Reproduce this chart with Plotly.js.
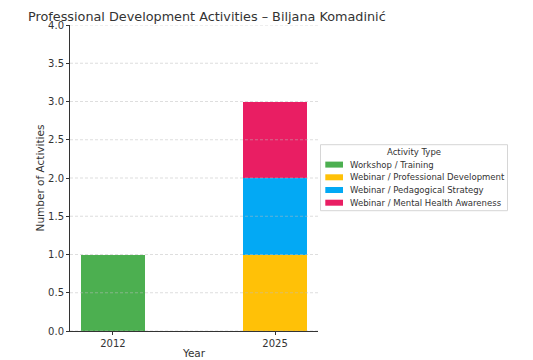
<!DOCTYPE html>
<html><head><meta charset="utf-8">
<script src="https://cdn.plot.ly/plotly-3.0.1.min.js"></script>
<style>html,body{margin:0;padding:0;background:#fff}#c{width:533px;height:360px}</style>
</head><body><div id="c"></div>
<script>
const years = ['2012', '2025'];
const seriesNames = ['Workshop / Training', 'Webinar / Professional Development', 'Webinar / Pedagogical Strategy', 'Webinar / Mental Health Awareness'];
const workshop = [1, null];
const profDev = [null, 1];
const pedagogical = [null, 1];
const mentalHealth = [null, 1];
const colors = ['#4CAF50', '#FFC107', '#03A9F4', '#E91E63'];
const yTicks = [0, 0.5, 1, 1.5, 2, 2.5, 3, 3.5, 4];
const legendTitle = 'Activity Type';

// layout geometry (pixels)
const W = 533, H = 360, L = 70, R = 318, T = 25, B = 331;
const px = x => (x - L) / (R - L);
const py = y => (B - y) / (B - T);

const vals = [workshop, profDev, pedagogical, mentalHealth];
const traces = vals.map((v, i) => ({
  type: 'bar', x: years, y: v, name: seriesNames[i],
  marker: {color: colors[i], line: {width: 0}}, width: 0.4, showlegend: false
}));

const gridStyle = {color: 'rgba(190,190,190,0.5)', width: 1, dash: '3px,2px'};
const shapes = [];
yTicks.forEach(t => shapes.push({type: 'line', layer: 'above', xref: 'paper', yref: 'y', x0: 0, x1: 1, y0: t, y1: t, line: gridStyle}));
years.forEach(c => shapes.push({type: 'line', layer: 'above', xref: 'x', yref: 'paper', x0: c, x1: c, y0: 0, y1: 1, line: gridStyle}));

// custom legend
const legL = 320.5, legR = 507.5, legT = 144.7, legB = 210.7;
shapes.push({type: 'rect', layer: 'above', xref: 'paper', yref: 'paper', x0: px(legL), x1: px(legR), y0: py(legB), y1: py(legT), line: {color: '#d6d6d6', width: 1}, fillcolor: 'rgba(255,255,255,0.8)'});
const annotations = [{xref: 'paper', yref: 'paper', x: px((legL + legR) / 2), y: py(152.3), xanchor: 'center', yanchor: 'middle', text: legendTitle, showarrow: false, font: {size: 8.5, color: '#333'}}];
seriesNames.forEach((n, i) => {
  const cy = 164.6 + i * 12.7;
  shapes.push({type: 'rect', layer: 'above', xref: 'paper', yref: 'paper', x0: px(325.3), x1: px(343), y0: py(cy + 3), y1: py(cy - 3), line: {width: 0}, fillcolor: colors[i]});
  annotations.push({xref: 'paper', yref: 'paper', x: px(347.5), y: py(cy), xanchor: 'left', yanchor: 'middle', text: n, showarrow: false, font: {size: 8.5, color: '#333'}});
});

const font = {family: 'DejaVu Sans, sans-serif', color: '#333', size: 10};
Plotly.newPlot('c', traces, {
  width: W, height: H,
  barmode: 'stack',
  margin: {l: L, r: W - R, t: T, b: H - B},
  paper_bgcolor: '#fff', plot_bgcolor: '#fff',
  font: font,
  showlegend: false,
  title: {text: 'Professional Development Activities – Biljana Komadinić', x: 28/533, xanchor: 'left', y: 1 - 16.5/360, yanchor: 'middle', font: {family: 'DejaVu Sans, sans-serif', size: 12.8, color: '#333'}},
  xaxis: {type: 'category', range: [-0.265, 1.265], showline: true, linecolor: '#333', linewidth: 1,
    ticks: 'outside', ticklen: 3, tickcolor: '#333', showgrid: false,
    title: {text: 'Year', standoff: 1, font: {size: 10.5}}, tickfont: {size: 10}},
  yaxis: {range: [0, 4], tickvals: yTicks, ticktext: yTicks.map(v => v.toFixed(1)), showline: true, linecolor: '#333', linewidth: 1,
    ticks: 'outside', ticklen: 3, tickcolor: '#333', showgrid: false, zeroline: false,
    title: {text: 'Number of Activities', standoff: 1, font: {size: 10.5}}, tickfont: {size: 10}},
  shapes: shapes,
  annotations: annotations
}, {displayModeBar: false, staticPlot: true});
</script></body></html>
